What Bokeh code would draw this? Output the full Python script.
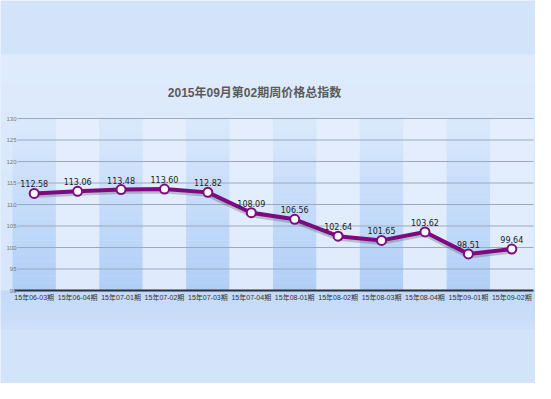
from bokeh.plotting import figure
from bokeh.models import Range1d, ColumnDataSource
from bokeh.core.properties import value
from bokeh.embed import file_html
from bokeh.resources import INLINE

# ---- data ----
categories = ["15年06-03期", "15年06-04期", "15年07-01期", "15年07-02期",
              "15年07-03期", "15年07-04期", "15年08-01期", "15年08-02期",
              "15年08-03期", "15年08-04期", "15年09-01期", "15年09-02期"]
index_values = [112.58, 113.06, 113.48, 113.60, 112.82, 108.09,
                106.56, 102.64, 101.65, 103.62, 98.51, 99.64]
y_ticks = [90, 95, 100, 105, 110, 115, 120, 125, 130]
title_text = "2015年09月第02期周价格总指数"

W, H = 535, 383
n = len(categories)
ymin, ymax = y_ticks[0], y_ticks[-1]

# pixel layout (figure coords, top-left origin)
plot_left, plot_right = 12.0, 533.0
plot_top, plot_bottom = 118.0, 290.0
ux = (plot_right - plot_left) / n
uy = (plot_bottom - plot_top) / (ymax - ymin)
x0 = -0.5 - plot_left / ux
y0 = ymin - (H - plot_bottom) / uy

def dx(px):
    return x0 + px / ux

def dy(py):
    return y0 + (H - py) / uy

p = figure(width=W, height=H, output_backend="svg", toolbar_location=None,
           x_range=Range1d(x0, x0 + W / ux), y_range=Range1d(y0, y0 + H / uy),
           x_axis_location=None, y_axis_location=None, title=None,
           min_border=0, outline_line_color=None,
           background_fill_color="#d3e3fa", border_fill_color="#d3e3fa")
p.grid.visible = False

def lerp(c1, c2, t):
    a = [int(c1[i:i + 2], 16) for i in (1, 3, 5)]
    b = [int(c2[i:i + 2], 16) for i in (1, 3, 5)]
    return "#%02x%02x%02x" % tuple(round(a[k] + (b[k] - a[k]) * t) for k in range(3))

# chart background band
steps = 24
bl, br, bt, bb = [], [], [], []
bc = []
top_px, bot_px = 54.0, 290.0
for s in range(steps):
    t0 = top_px + (bot_px - top_px) * s / steps
    t1 = top_px + (bot_px - top_px) * (s + 1) / steps
    bl.append(dx(0)); br.append(dx(W)); bt.append(dy(t0)); bb.append(dy(t1))
    bc.append(lerp("#dfebfc", "#d6e6fb", s / (steps - 1)))
for s in range(8):
    t0 = 290.0 + 39.0 * s / 8
    t1 = 290.0 + 39.0 * (s + 1) / 8
    bl.append(dx(0)); br.append(dx(W)); bt.append(dy(t0)); bb.append(dy(t1))
    bc.append(lerp("#c3d9f7", "#cddff9", s / 7))
p.quad(left=bl, right=br, top=bt, bottom=bb, fill_color=bc, line_color=None)

# alternating column bands with gradient
ql, qr, qt, qb, qc = [], [], [], [], []
for i in range(n):
    for s in range(steps):
        y_a = ymax - (ymax - ymin) * s / steps
        y_b = ymax - (ymax - ymin) * (s + 1) / steps
        t = s / (steps - 1)
        if i % 2 == 0:
            c = lerp("#dae8fc", "#b1cff6", t)
        else:
            c = lerp("#e4eefd", "#dfebfc", t)
        ql.append(i - 0.5); qr.append(i + 0.5); qt.append(y_a); qb.append(y_b); qc.append(c)
p.quad(left=ql, right=qr, top=qt, bottom=qb, fill_color=qc, line_color=None)

# grid lines
p.segment(x0=[dx(17)] * (len(y_ticks) - 1), x1=[n - 0.5] * (len(y_ticks) - 1),
          y0=y_ticks[1:], y1=y_ticks[1:], line_color="#9aa9be", line_width=1)
# x axis line
p.segment(x0=[dx(14)], x1=[n - 0.5], y0=[ymin], y1=[ymin],
          line_color="#2b3038", line_width=2)

# y tick labels
p.text(x=[dx(16)] * len(y_ticks), y=y_ticks, text=[str(t) for t in y_ticks],
       text_font=value("Liberation Sans"), text_font_size="6px",
       text_color="#777777", text_align="right", text_baseline="middle")

# x category labels
xs = list(range(n))
p.text(x=xs, y=[ymin] * n, text=categories,
       text_font=value("Liberation Sans, Noto Sans CJK SC"), text_font_size="7px",
       text_color="#333333", text_align="center", text_baseline="top", y_offset=3)

# title
p.text(x=[dx(254)], y=[dy(92)], text=[title_text],
       text_font=value("Liberation Sans, Noto Sans CJK SC"), text_font_size="12px",
       text_font_style="bold", text_color="#5a5a5a",
       text_align="center", text_baseline="middle")

src = ColumnDataSource(dict(x=xs, y=index_values,
                            lab=["%.2f" % v for v in index_values]))

# shadow
p.line(x=xs, y=[v - 2.0 / uy for v in index_values],
       line_color="#303030", line_alpha=0.25, line_width=5, line_join="round")
# main line
p.line(x="x", y="y", source=src, line_color="#7d0a80", line_width=4,
       line_join="round")
p.scatter(x="x", y="y", source=src, size=9, fill_color="white",
          line_color="#7d0a80", line_width=2)

# value labels
p.text(x="x", y="y", text="lab", source=src,
       text_font=value("DejaVu Sans"), text_font_size="8px",
       text_color="#222222", text_align="center", text_baseline="bottom",
       y_offset=-6)

open("out.html", "w").write(file_html(p, INLINE))
